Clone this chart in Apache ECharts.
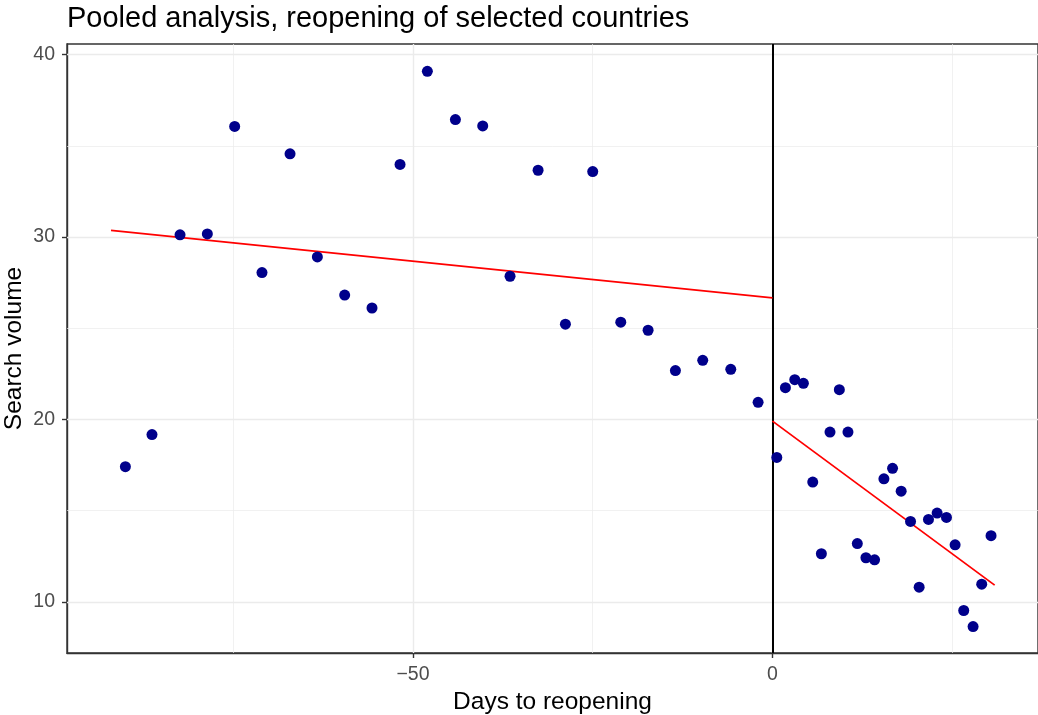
<!DOCTYPE html>
<html>
<head>
<meta charset="utf-8">
<script src="https://cdn.jsdelivr.net/npm/echarts@6/dist/echarts.min.js"></script>
<style>html,body{margin:0;padding:0;background:#fff;}#c{width:1038px;height:715px;}</style>
</head>
<body>
<div id="c"></div>
<script>
// Days to reopening (before reopening)
const preDays = [-90.0, -86.3, -82.4, -78.6, -74.8, -71.0, -67.1, -63.3, -59.5, -55.7, -51.8, -48.0,
                 -44.1, -40.3, -36.5, -32.6, -28.8, -25.0, -21.1, -17.3, -13.5, -9.7, -5.8, -2.0];
const preVolume = [17.41, 19.17, 30.12, 30.17, 36.06, 28.05, 34.56, 28.91, 26.82, 26.11, 33.98, 39.08,
                   36.44, 36.09, 27.85, 33.66, 25.22, 33.59, 25.33, 24.89, 22.68, 23.24, 22.75, 20.94];
// Days after reopening
const postDays = [0.6, 1.8, 3.1, 4.3, 5.6, 6.8, 8.0, 9.3, 10.5, 11.8, 13.0, 14.2, 15.5, 16.7, 17.9,
                  19.2, 20.4, 21.7, 22.9, 24.2, 25.4, 26.6, 27.9, 29.1, 30.4];
const postVolume = [17.92, 21.74, 22.18, 21.98, 16.57, 12.64, 19.31, 21.63, 19.31, 13.20, 12.42, 12.31,
                    16.75, 17.32, 16.07, 14.41, 10.81, 14.52, 14.87, 14.63, 13.13, 9.53, 8.65, 10.97, 13.63];
// fitted regression segments (endpoints)
const preFitDays = [-92, 0];
const preFitVolume = [30.36, 26.66];
const postFitDays = [0, 30.9];
const postFitVolume = [19.91, 10.92];
// axes
const xRange = [-98.12, 36.93];
const yRange = [7.2, 40.58];
const xMajorTicks = [-50, 0];
const xMinorTicks = [-75, -25, 25];
const yMajorTicks = [10, 20, 30, 40];
const yMinorTicks = [15, 25, 35];
const reopeningDay = 0;

const zip = (a, b) => a.map((v, i) => [v, b[i]]);
const FONT = '"Liberation Sans", Arial, sans-serif';

const gridLines = [];
xMinorTicks.forEach(v => gridLines.push({xAxis: v, lineStyle: {color: '#ebebeb', width: 0.7}}));
yMinorTicks.forEach(v => gridLines.push({yAxis: v, lineStyle: {color: '#ebebeb', width: 0.7}}));
xMajorTicks.forEach(v => gridLines.push({xAxis: v, lineStyle: {color: '#ebebeb', width: 1.4}}));
yMajorTicks.forEach(v => gridLines.push({yAxis: v, lineStyle: {color: '#ebebeb', width: 1.4}}));

const chart = echarts.init(document.getElementById('c'), null, {renderer: 'canvas'});
chart.setOption({
  animation: false,
  backgroundColor: '#ffffff',
  textStyle: {fontFamily: FONT},
  title: {
    text: 'Pooled analysis, reopening of selected countries',
    left: 67, top: 4, padding: 0,
    textStyle: {fontFamily: FONT, fontSize: 29, fontWeight: 'normal', color: '#000'}
  },
  grid: {left: 67, right: 0, top: 44, bottom: 62, containLabel: false, outerBoundsMode: 'none',
    show: true, borderColor: '#333333', borderWidth: 1.4, backgroundColor: 'transparent'},
  xAxis: {
    type: 'value', min: xRange[0], max: xRange[1],
    name: 'Days to reopening', nameLocation: 'middle', nameGap: 36,
    nameTextStyle: {fontFamily: FONT, fontSize: 24.5, color: '#000'},
    axisLine: {show: true, onZero: false, lineStyle: {color: '#333333', width: 1.4}},
    axisTick: {show: true, length: 5, customValues: xMajorTicks, lineStyle: {color: '#333333', width: 1.4}},
    axisLabel: {customValues: xMajorTicks, margin: 12, fontSize: 19.5, color: '#4d4d4d', fontFamily: FONT,
      formatter: v => String(v).replace('-', '\u2212')},
    splitLine: {show: false}
  },
  yAxis: {
    type: 'value', min: yRange[0], max: yRange[1],
    name: 'Search volume', nameLocation: 'middle', nameGap: 40, nameMoveOverlap: false,
    nameTextStyle: {fontFamily: FONT, fontSize: 24.5, color: '#000'},
    axisLine: {show: true, onZero: false, lineStyle: {color: '#333333', width: 1.4}},
    axisTick: {show: true, length: 5, customValues: yMajorTicks, lineStyle: {color: '#333333', width: 1.4}},
    axisLabel: {customValues: yMajorTicks, margin: 12, fontSize: 19.5, color: '#4d4d4d', fontFamily: FONT},
    splitLine: {show: false}
  },
  series: [
    {
      type: 'line', data: [], silent: true, z: 1,
      markLine: {silent: true, z: 1, symbol: ['none', 'none'], label: {show: false}, animation: false,
        lineStyle: {type: 'solid'}, data: gridLines}
    },
    {
      type: 'line', data: [], silent: true, z: 2,
      markLine: {silent: true, z: 2, symbol: ['none', 'none'], label: {show: false}, animation: false,
        lineStyle: {type: 'solid', color: '#000', width: 2}, data: [{xAxis: reopeningDay}]}
    },
    {
      type: 'line', data: zip(preFitDays, preFitVolume), showSymbol: false, symbol: 'none',
      lineStyle: {color: '#ff0000', width: 1.8}, z: 3
    },
    {
      type: 'line', data: zip(postFitDays, postFitVolume), showSymbol: false, symbol: 'none',
      lineStyle: {color: '#ff0000', width: 1.8}, z: 3
    },
    {
      type: 'scatter', data: zip(preDays, preVolume).concat(zip(postDays, postVolume)),
      symbol: 'circle', symbolSize: 11, itemStyle: {color: '#00008B', opacity: 1}, z: 4
    }
  ]
});
</script>
</body>
</html>
